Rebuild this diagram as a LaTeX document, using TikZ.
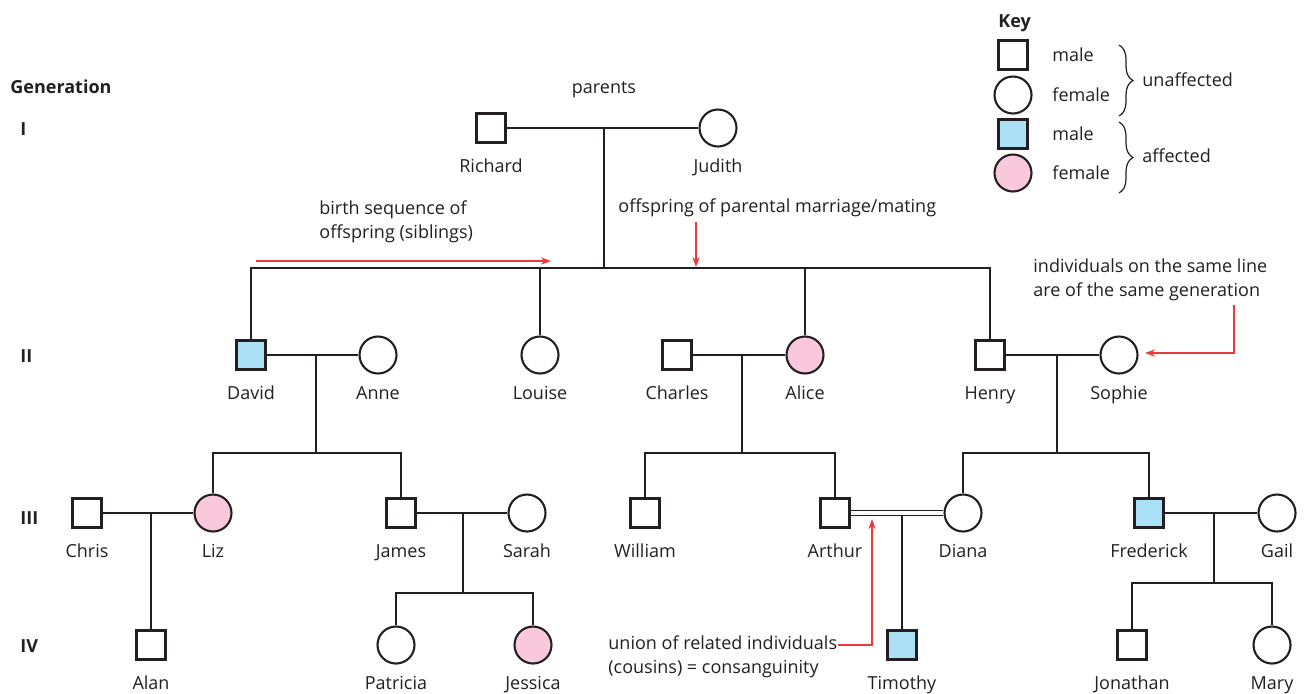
\documentclass[tikz,border=0pt]{standalone}
\usepackage{fontspec}
\setmainfont{Open Sans}
\usepackage{xcolor}
\usetikzlibrary{arrows.meta,decorations.pathreplacing}

\definecolor{ink}{HTML}{231F20}
\definecolor{affblue}{HTML}{ABE0F7}
\definecolor{affpink}{HTML}{F9C8DD}
\definecolor{annred}{HTML}{EC3A3C}

\tikzset{
  male/.style={draw=ink, line width=1.05pt, rectangle, minimum size=14.5pt, inner sep=0pt},
  female/.style={draw=ink, line width=1.05pt, circle, minimum size=18.5pt, inner sep=0pt},
  amale/.style={male, fill=affblue},
  afemale/.style={female, fill=affpink},
  line/.style={draw=ink, line width=1pt},
  consang/.style={draw=ink, line width=0.7pt, double=white, double distance=2pt},
  pname/.style={inner sep=0pt, text height=0.72em, text depth=0pt},
  gen/.style={anchor=west, inner sep=0pt, text height=0.72em, text depth=0pt,
    font=\fontsize{9}{12}\selectfont\bfseries},
  note/.style={anchor=west, align=left, inner sep=0pt},
  ann/.style={draw=annred, line width=0.9pt, -{Stealth[length=5pt,width=3.6pt]}},
  keybrace/.style={draw=ink, line width=0.6pt, decorate, decoration={brace, amplitude=7pt}}
}

\begin{document}
\begin{tikzpicture}[x=0.5pt, y=-0.5pt, font=\fontsize{9}{12}\selectfont, text=ink]
  \useasboundingbox (0,0) rectangle (1304,693);

  % generations
  \node[gen] (gen) at (10,86) {Generation};
  \foreach \g/\y in {I/128, II/355, III/517, IV/645}
    \node[gen] (gen-\g) at (20,\y) {\g};

  % people
  \foreach \n/\x/\y/\t/\l in {
      richard/491/128/male/Richard, judith/718/128/female/Judith,
      david/251/355/amale/David, anne/378/355/female/Anne,
      louise/540/355/female/Louise, charles/677/355/male/Charles,
      alice/805/355/afemale/Alice, henry/990/355/male/Henry,
      sophie/1119/355/female/Sophie,
      chris/87/513/male/Chris, liz/213/513/afemale/Liz,
      james/401/513/male/James, sarah/527/513/female/Sarah,
      william/645/513/male/William, arthur/835/513/male/Arthur,
      diana/963/513/female/Diana, frederick/1149/513/amale/Frederick,
      gail/1277/513/female/Gail,
      alan/151/645/male/Alan, patricia/396/645/female/Patricia,
      jessica/533/645/afemale/Jessica, timothy/902/645/amale/Timothy,
      jonathan/1132/645/male/Jonathan, mary/1272/645/female/Mary} {
    \node[\t] (\n) at (\x,\y) {};
    \node[pname] (\n-name) at (\x,\y+37) {\l};
  }
  \node[pname] (parents) at (604,86) {parents};

  % generation I
  \coordinate (m1) at (604,128);
  \coordinate (s1) at (604,268);
  \draw[line] (richard) -- (judith);
  \draw[line] (m1) -- (s1);
  \draw[line] (david) |- (s1) -| (henry);
  \draw[line] (louise) -- (louise |- s1);
  \draw[line] (alice) -- (alice |- s1);

  % generation II
  \coordinate (m2) at (316,355);
  \coordinate (s2) at (316,453);
  \draw[line] (david) -- (anne);
  \draw[line] (m2) -- (s2);
  \draw[line] (liz) |- (s2) -| (james);

  \coordinate (m3) at (742,355);
  \coordinate (s3) at (742,453);
  \draw[line] (charles) -- (alice);
  \draw[line] (m3) -- (s3);
  \draw[line] (william) |- (s3) -| (arthur);

  \coordinate (m4) at (1057,355);
  \coordinate (s4) at (1057,453);
  \draw[line] (henry) -- (sophie);
  \draw[line] (m4) -- (s4);
  \draw[line] (diana) |- (s4) -| (frederick);

  % generation III
  \coordinate (m5) at (151,513);
  \draw[line] (chris) -- (liz);
  \draw[line] (m5) -- (alan);

  \coordinate (m6) at (463,513);
  \coordinate (s6) at (463,593);
  \draw[line] (james) -- (sarah);
  \draw[line] (m6) -- (s6);
  \draw[line] (patricia) |- (s6) -| (jessica);

  \coordinate (m7) at (902,516);
  \draw[consang] (arthur) -- (diana);
  \draw[line] (m7) -- (timothy);

  \coordinate (m8) at (1214,513);
  \coordinate (s8) at (1214,583);
  \draw[line] (frederick) -- (gail);
  \draw[line] (m8) -- (s8);
  \draw[line] (jonathan) |- (s8) -| (mary);

  % notes
  \node[note] (birth) at (319,222) {birth sequence of\\offspring (siblings)};
  \coordinate (birth-a) at (256,261);
  \coordinate (birth-b) at (551,261);
  \draw[ann] (birth-a) -- (birth-b);

  \node[note] (offspring) at (618,208) {offspring of parental marriage/mating};
  \coordinate (off-a) at (696,222);
  \coordinate (off-b) at (696,267);
  \draw[ann] (off-a) -- (off-b);

  \node[note] (samegen) at (1033,280) {individuals on the same line\\are of the same generation};
  \coordinate (gen-a) at (1234,305);
  \coordinate (gen-b) at (1145,353);
  \draw[ann] (gen-a) |- (gen-b);

  \node[note] (union) at (608,657) {union of related individuals\\(cousins) = consanguinity};
  \coordinate (union-a) at (838,645);
  \coordinate (union-b) at (872,519);
  \draw[ann] (union-a) -| (union-b);

  % key
  \node[gen] (key) at (998,20) {Key};
  \node[male] (k1) at (1013,55) {};
  \node[female] (k2) at (1013,95) {};
  \node[amale] (k3) at (1013,134) {};
  \node[afemale] (k4) at (1013,173) {};
  \foreach \k/\t in {k1/male, k2/female, k3/male, k4/female}
    \node[note] (\k-txt) at (1052,0 |- \k) {\t};
  \coordinate (br1-a) at (1119,45);
  \coordinate (br1-b) at (1119,116);
  \coordinate (br2-a) at (1119,122);
  \coordinate (br2-b) at (1119,193);
  \draw[keybrace] (br1-a) -- (br1-b);
  \draw[keybrace] (br2-a) -- (br2-b);
  \node[note] (unaff) at (1142,80) {unaffected};
  \node[note] (aff) at (1142,156) {affected};
\end{tikzpicture}
\end{document}
